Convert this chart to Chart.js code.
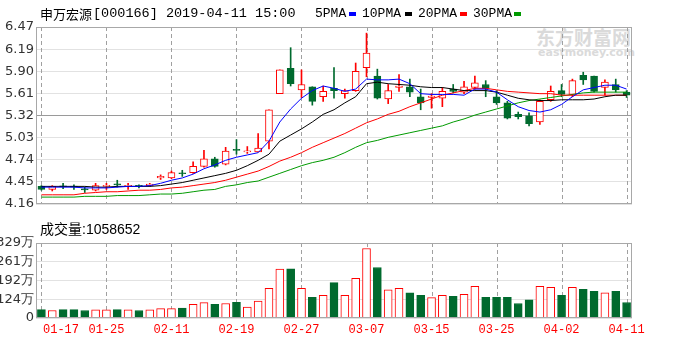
<!DOCTYPE html>
<html>
<head>
<meta charset="utf-8">
<script src="https://cdn.jsdelivr.net/npm/chart.js@4.4.0/dist/chart.umd.min.js"></script>
<style>
    body { margin: 0; background: #fff; }
    #wrap { position: relative; width: 700px; height: 350px; overflow: hidden; background: #fff; }
    canvas { position: absolute; left: 0; }
    .t { position: absolute; white-space: nowrap; font-size: 13px; line-height: 16px; color: #000; }
    .mono { font-family: "Liberation Mono", monospace; }
    .cjk { font-family: "Noto Sans CJK SC", sans-serif; }
    .mk { position: absolute; top: 12px; width: 7px; height: 4px; }
    .wm { position: absolute; color: #dadada; font-weight: bold; white-space: nowrap; }
    .dayline { position: absolute; width: 1px; background: repeating-linear-gradient(to bottom, #a0a0a0 0 4px, transparent 4px 7px); }
</style>
</head>
<body>
<div id="wrap">
    <div class="wm cjk" style="left:536px;top:26px;font-size:19px;line-height:22px;">东方财富网</div>
    <div class="wm" style="left:538px;top:47px;font-size:11px;line-height:12px;font-family:'DejaVu Sans';">eastmoney.com</div>
    <div id="lines"></div>

    <canvas id="kline" width="700" height="222" style="top:0;width:700px;height:222px"></canvas>
    <canvas id="vol" width="700" height="128" style="top:222px;width:700px;height:128px"></canvas>

    <div class="t cjk" style="left:40px;top:6px;">申万宏源</div>
    <div class="t mono" style="left:93px;top:6px;font-size:13.5px;">[000166] 2019-04-11 15:00</div>
    <div class="t mono" style="left:315px;top:6px;">5PMA</div>
    <div class="mk" style="left:349px;background:#0000ff"></div>
    <div class="t mono" style="left:362px;top:6px;">10PMA</div>
    <div class="mk" style="left:405px;background:#000"></div>
    <div class="t mono" style="left:418px;top:6px;">20PMA</div>
    <div class="mk" style="left:460px;background:#ff0000"></div>
    <div class="t mono" style="left:473px;top:6px;">30PMA</div>
    <div class="mk" style="left:514px;background:#009a00"></div>

    <div class="t" style="left:40px;top:221px;font-size:14px;font-family:'Liberation Sans','Noto Sans CJK SC',sans-serif;">成交量:1058652</div>
</div>

<script>
const dates = ['01-17','01-18','01-21','01-22','01-23','01-24','01-25','01-28','01-29','01-30','01-31',
    '02-01','02-11','02-12','02-13','02-14','02-15','02-18','02-19','02-20','02-21','02-22','02-25','02-26','02-27','02-28',
    '03-01','03-04','03-05','03-06','03-07','03-08','03-11','03-12','03-13','03-14','03-15','03-18','03-19','03-20','03-21',
    '03-22','03-25','03-26','03-27','03-28','03-29','04-01','04-02','04-03','04-04','04-08','04-09','04-10','04-11'];
const axisLabels = ['01-17','01-25','02-11','02-19','02-27','03-07','03-15','03-25','04-02','04-11'];

const openP = [4.39,4.35,4.39,4.39,4.35,4.34,4.39,4.42,4.39,4.40,4.40,4.50,4.50,4.565,4.57,4.65,4.75,4.68,4.87,4.84,
    4.84,4.98,5.60,5.93,5.65,5.69,5.56,5.67,5.60,5.64,5.94,5.83,5.53,5.68,5.69,5.56,5.55,5.54,5.66,5.62,
    5.68,5.72,5.56,5.48,5.33,5.31,5.23,5.52,5.64,5.59,5.84,5.83,5.68,5.72,5.62];
const highP = [4.40,4.40,4.43,4.41,4.38,4.43,4.43,4.47,4.43,4.41,4.43,4.54,4.59,4.60,4.71,4.86,4.77,4.90,5.00,4.91,
    5.08,5.39,5.91,6.20,5.91,5.69,5.70,5.94,5.66,6.00,6.39,5.92,5.72,5.85,5.79,5.66,5.60,5.68,5.72,5.76,
    5.83,5.77,5.64,5.50,5.36,5.35,5.52,5.70,5.72,5.79,5.88,5.83,5.78,5.79,5.64];
const lowP = [4.34,4.33,4.36,4.35,4.31,4.33,4.35,4.38,4.35,4.37,4.39,4.48,4.49,4.52,4.56,4.64,4.64,4.67,4.81,4.82,
    4.84,4.88,5.60,5.70,5.55,5.45,5.50,5.54,5.54,5.63,5.82,5.53,5.47,5.63,5.56,5.39,5.41,5.43,5.61,5.60,
    5.66,5.56,5.46,5.27,5.27,5.18,5.20,5.50,5.56,5.56,5.72,5.62,5.58,5.62,5.55];
const closeP = [4.35,4.39,4.385,4.38,4.345,4.40,4.40,4.41,4.40,4.39,4.42,4.52,4.57,4.555,4.65,4.75,4.65,4.85,4.86,4.85,
    4.89,5.39,5.91,5.73,5.72,5.50,5.63,5.64,5.64,5.89,6.13,5.54,5.64,5.70,5.62,5.48,5.57,5.63,5.63,5.69,
    5.74,5.67,5.48,5.28,5.30,5.21,5.50,5.63,5.59,5.77,5.78,5.63,5.75,5.65,5.58];

const ma5 = [4.38,4.38,4.38,4.38,4.37,4.37,4.37,4.38,4.39,4.39,4.40,4.43,4.47,4.50,4.55,4.62,4.67,4.73,4.77,4.80,
    4.83,4.98,5.23,5.40,5.54,5.64,5.70,5.67,5.63,5.66,5.79,5.78,5.78,5.79,5.73,5.60,5.59,5.59,5.59,5.58,
    5.66,5.66,5.62,5.52,5.43,5.38,5.36,5.39,5.46,5.56,5.65,5.68,5.71,5.71,5.66];
const ma10 = [4.39,4.39,4.39,4.39,4.39,4.38,4.38,4.39,4.39,4.39,4.39,4.40,4.42,4.44,4.47,4.50,4.53,4.56,4.60,4.66,
    4.73,4.81,4.98,5.06,5.14,5.23,5.33,5.39,5.48,5.56,5.73,5.75,5.73,5.72,5.71,5.69,5.68,5.68,5.66,5.64,
    5.64,5.64,5.62,5.58,5.54,5.52,5.51,5.51,5.52,5.52,5.52,5.53,5.56,5.58,5.58];
const ma20 = [4.28,4.28,4.28,4.28,4.30,4.31,4.32,4.32,4.33,4.34,4.34,4.35,4.37,4.38,4.40,4.42,4.44,4.47,4.51,4.55,
    4.59,4.65,4.72,4.77,4.83,4.90,4.96,5.02,5.08,5.15,5.22,5.27,5.33,5.37,5.43,5.48,5.53,5.58,5.61,5.64,
    5.67,5.67,5.65,5.63,5.62,5.61,5.60,5.60,5.58,5.58,5.58,5.58,5.58,5.58,5.58];
const ma30 = [4.25,4.25,4.25,4.25,4.26,4.26,4.26,4.27,4.27,4.27,4.28,4.29,4.29,4.30,4.32,4.34,4.35,4.39,4.41,4.44,
    4.46,4.51,4.56,4.61,4.66,4.70,4.73,4.77,4.83,4.90,4.96,4.99,5.03,5.06,5.09,5.12,5.15,5.18,5.23,5.27,
    5.32,5.36,5.40,5.44,5.48,5.51,5.53,5.55,5.57,5.59,5.61,5.62,5.62,5.62,5.62];

// 成交量, 万
const volume = [86.3,83.0,86.3,86.3,83.0,85.3,85.3,86.3,85.3,83.0,85.3,89.6,89.6,91.9,105.1,111.7,105.1,108.4,112.7,95.2,
    117.4,163.7,234.1,235.1,163.7,130.6,138.2,184.5,138.2,200.1,309.2,239.8,158.0,163.7,147.1,138.2,129.9,138.2,134.2,141.5,
    171.3,130.6,130.6,130.6,108.4,121.7,171.3,167.0,138.2,167.0,160.4,152.4,147.1,152.4,112.0];

const priceTickLabels = ['4.16','4.45','4.74','5.03','5.32','5.61','5.90','6.19','6.47'];
const volTickLabels = ['0','124万','192万','261万','329万'];

const RED = '#ff0000';
const GREEN = '#006a2e';
const isUp = i => closeP[i] >= openP[i];

const framePlugin = {
    id: 'frame',
    beforeDatasetsDraw(chart) {
        // dashed day lines under the candles
        const { ctx, chartArea: a, scales } = chart;
        ctx.save();
        ctx.fillStyle = '#a0a0a0';
        for (const d of axisLabels) {
            const x = Math.round(scales.x.getPixelForValue(dates.indexOf(d)));
            for (let y = Math.round(a.top); y < a.bottom; y += 7) {
                ctx.fillRect(x, y, 1, Math.min(4, a.bottom - y));
            }
        }
        ctx.restore();
    },
    afterDraw(chart) {
        const { ctx, chartArea: a } = chart;
        ctx.save();
        ctx.strokeStyle = '#a8a8a8';
        ctx.lineWidth = 1;
        ctx.strokeRect(Math.round(a.left) + 0.5, Math.round(a.top) + 0.5,
            Math.round(a.right - a.left) - 1, Math.round(a.bottom - a.top) - 1);
        ctx.restore();
    }
};

const xLabelPlugin = {
    id: 'xLabels',
    afterDraw(chart) {
        const { ctx, chartArea, scales } = chart;
        ctx.save();
        ctx.font = '12px "Liberation Mono"';
        ctx.fillStyle = RED;
        ctx.textAlign = 'center';
        ctx.textBaseline = 'middle';
        for (const d of axisLabels) {
            const w = ctx.measureText(d).width;
            const x = Math.max(scales.x.getPixelForValue(dates.indexOf(d)), chartArea.left + 7 + w / 2);
            ctx.fillText(d, x, chartArea.bottom + 12);
        }
        ctx.restore();
    }
};

function xScale() {
    return {
        offset: true,
        grid: { display: false },
        border: { display: false },
        ticks: { display: false }
    };
}

function yScale(min, max, labels, gridColor) {
    return {
        min: min,
        max: max,
        afterFit: s => { s.width = 36; },
        afterBuildTicks: s => {
            s.ticks = labels.map((_, k) => ({ value: min + k * (max - min) / (labels.length - 1) }));
        },
        ticks: {
            autoSkip: false,
            padding: 2,
            color: '#333',
            font: { family: 'DejaVu Sans', size: 13 },
            callback: (v, i) => labels[i]
        },
        grid: { drawTicks: false, color: gridColor },
        border: { display: false }
    };
}

Chart.defaults.animation = false;

const kChart = new Chart(document.getElementById('kline'), {
    type: 'bar',
    data: {
        labels: dates,
        datasets: [
            { type: 'line', data: ma5, borderColor: '#0000ff', borderWidth: 1, pointRadius: 0, order: 1 },
            { type: 'line', data: ma10, borderColor: '#000000', borderWidth: 1, pointRadius: 0, order: 1 },
            { type: 'line', data: ma20, borderColor: '#ff0000', borderWidth: 1, pointRadius: 0, order: 1 },
            { type: 'line', data: ma30, borderColor: '#009a00', borderWidth: 1, pointRadius: 0, order: 1 },
            {
                data: dates.map((d, i) => [openP[i], closeP[i]]),
                grouped: false,
                barThickness: 7,
                minBarLength: 1,
                borderWidth: 1,
                borderSkipped: false,
                backgroundColor: c => isUp(c.dataIndex) ? '#ffffff' : GREEN,
                borderColor: c => isUp(c.dataIndex) ? RED : GREEN,
                order: 2
            },
            {
                data: dates.map((d, i) => [lowP[i], highP[i]]),
                grouped: false,
                barThickness: 1,
                backgroundColor: c => isUp(c.dataIndex) ? RED : GREEN,
                order: 3
            }
        ]
    },
    options: {
        responsive: false,
        layout: { padding: { top: 27, bottom: 10, left: 0, right: 68 } },
        plugins: { legend: { display: false }, tooltip: { enabled: false } },
        scales: {
            x: xScale(),
            y: yScale(4.16, 6.47, priceTickLabels, c => c.index === 4 ? '#9a9a9a' : '#e2e2e2')
        }
    },
    plugins: [framePlugin]
});

const vChart = new Chart(document.getElementById('vol'), {
    type: 'bar',
    data: {
        labels: dates,
        datasets: [{
            data: volume,
            barThickness: 8,
            borderWidth: 1,
            borderSkipped: false,
            backgroundColor: c => isUp(c.dataIndex) ? '#ffffff' : GREEN,
            borderColor: c => isUp(c.dataIndex) ? RED : GREEN
        }]
    },
    options: {
        responsive: false,
        layout: { padding: { top: 21, bottom: 24, left: 0, right: 68 } },
        plugins: { legend: { display: false }, tooltip: { enabled: false } },
        scales: {
            x: xScale(),
            y: yScale(55.5, 329.1, volTickLabels, '#e2e2e2')
        }
    },
    plugins: [framePlugin, xLabelPlugin]
});

// same day lines again as page elements behind the canvases, placed from the chart scales
const linesBox = document.getElementById('lines');
[[kChart, 0], [vChart, 222]].forEach(([chart, top]) => {
    const a = chart.chartArea;
    axisLabels.forEach(d => {
        const el = document.createElement('div');
        el.className = 'dayline';
        el.style.left = Math.round(chart.scales.x.getPixelForValue(dates.indexOf(d))) + 'px';
        el.style.top = (top + Math.round(a.top)) + 'px';
        el.style.height = Math.round(a.bottom - a.top) + 'px';
        linesBox.appendChild(el);
    });
});
</script>
</body>
</html>
